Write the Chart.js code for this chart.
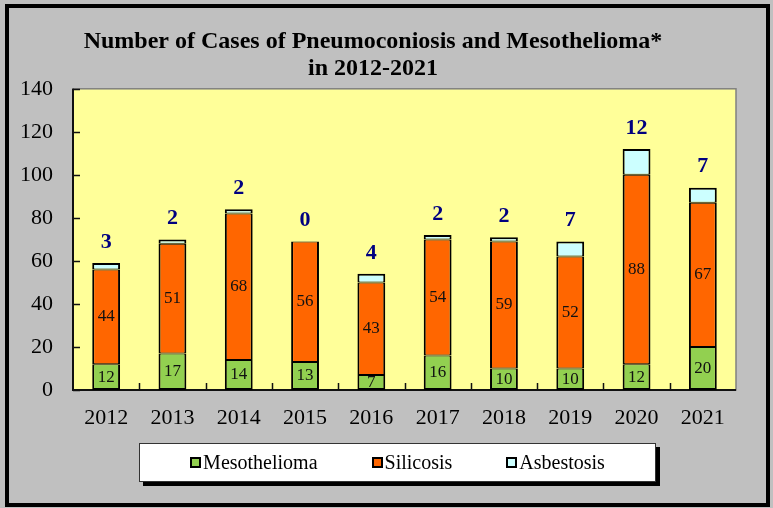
<!DOCTYPE html>
<html>
<head>
<meta charset="utf-8">
<script src="https://cdn.jsdelivr.net/npm/chart.js@4.4.1/dist/chart.umd.min.js"></script>
<style>
  html, body { margin: 0; padding: 0; background: #fff; }
  #wrap { position: relative; width: 773px; height: 508px; }
  #legend {
    position: absolute; left: 139px; top: 443px; width: 515px; height: 37px;
    background: #fff; border: 1px solid #333; box-shadow: 4px 4px 0 #000;
    display: flex; align-items: center; justify-content: center; gap: 54px;
    font: 20px "Liberation Serif", "Times New Roman", serif; color: #000;
  }
  .item { display: flex; align-items: center; }
  .swatch { width: 7px; height: 7px; border: 2px solid #000; margin-right: 2px; }
</style>
</head>
<body>
<div id="wrap">
  <canvas id="chart" width="773" height="508"></canvas>
  <div id="legend"></div>
</div>
<script>
// === Data ===
const years = ["2012", "2013", "2014", "2015", "2016", "2017", "2018", "2019", "2020", "2021"];
const mesothelioma = [12, 17, 14, 13, 7, 16, 10, 10, 12, 20];
const silicosis = [44, 51, 68, 56, 43, 54, 59, 52, 88, 67];
const asbestosis = [3, 2, 2, 0, 4, 2, 2, 7, 12, 7];
const yTicks = [0, 20, 40, 60, 80, 100, 120, 140];
const seriesNames = ["Mesothelioma", "Silicosis", "Asbestosis"];
const seriesColors = ["#92D050", "#FF6600", "#CCFFFF"];
const titleLines = ["Number of Cases of Pneumoconiosis and Mesothelioma*", "in 2012-2021"];

const SERIF = '"Liberation Serif", "Times New Roman", serif';

// borders per segment so stacked edges don't double up
const segmentBorders = [
  { top: 1, bottom: 2, left: 2, right: 2 },
  { top: 1, bottom: 1, left: 2, right: 2 },
  { top: 2, bottom: 1, left: 2, right: 2 },
];

// === Background, plot area and axes ===
const frame = {
  id: "frame",
  beforeDraw(chart) {
    const { ctx, chartArea: a } = chart;
    ctx.save();
    ctx.fillStyle = "#C0C0C0";
    ctx.fillRect(0, 0, chart.width, chart.height);
    ctx.strokeStyle = "#000";
    ctx.lineWidth = 4;
    ctx.strokeRect(7, 6, chart.width - 12, chart.height - 9);
    ctx.fillStyle = "#FFFF99";
    ctx.fillRect(a.left, a.top, a.right - a.left, a.bottom - a.top);
    ctx.strokeStyle = "#808080";
    ctx.lineWidth = 1.5;
    ctx.strokeRect(a.left, a.top, a.right - a.left, a.bottom - a.top);
    ctx.restore();
  },
  beforeDatasetsDraw(chart) {
    const { ctx, chartArea: a, scales } = chart;
    ctx.save();
    ctx.strokeStyle = "#111";
    ctx.lineWidth = 1.5;
    ctx.beginPath();
    // inward ticks on y
    yTicks.forEach(v => {
      const y = Math.round(scales.y.getPixelForValue(v)) + 0.5;
      ctx.moveTo(a.left, y);
      ctx.lineTo(a.left + 7, y);
    });
    // inward ticks on x at category boundaries
    const step = (a.right - a.left) / years.length;
    for (let i = 1; i < years.length; i++) {
      const x = Math.round(a.left + step * i) + 0.5;
      ctx.moveTo(x, a.bottom);
      ctx.lineTo(x, a.bottom - 7);
    }
    ctx.stroke();
    ctx.lineWidth = 2;
    ctx.beginPath();
    ctx.moveTo(a.left, a.top);
    ctx.lineTo(a.left, a.bottom);
    ctx.lineTo(a.right, a.bottom);
    ctx.stroke();
    ctx.restore();
  },
};

// === Value labels ===
const valueLabels = {
  id: "valueLabels",
  afterDatasetsDraw(chart) {
    const { ctx } = chart;
    ctx.save();
    ctx.textAlign = "center";
    ctx.textBaseline = "middle";
    chart.data.datasets.forEach((ds, di) => {
      const meta = chart.getDatasetMeta(di);
      meta.data.forEach((bar, i) => {
        const v = ds.data[i];
        if (di < 2) {
          ctx.font = "17px " + SERIF;
          ctx.fillStyle = "#111";
          ctx.fillText(String(v), bar.x, (bar.y + bar.base) / 2);
        } else {
          ctx.font = "bold 22px " + SERIF;
          ctx.fillStyle = "#000080";
          ctx.fillText(String(v), bar.x, bar.y - 21);
        }
      });
    });
    ctx.restore();
  },
};

const datasets = [mesothelioma, silicosis, asbestosis].map((data, i) => ({
  label: seriesNames[i],
  data,
  backgroundColor: seriesColors[i],
  borderColor: "#000",
  borderWidth: segmentBorders[i],
  borderSkipped: false,
  barPercentage: 0.42,
  categoryPercentage: 1,
}));

new Chart(document.getElementById("chart"), {
  type: "bar",
  data: { labels: years, datasets },
  options: {
    responsive: false,
    animation: false,
    layout: { padding: { left: 10, right: 37, top: 8, bottom: 0 } },
    plugins: {
      legend: { display: false },
      tooltip: { enabled: false },
      title: {
        display: true,
        text: titleLines,
        color: "#000",
        font: { family: SERIF, size: 24, weight: "bold", lineHeight: 1.1 },
        padding: { top: 21, bottom: 7 },
      },
    },
    scales: {
      x: {
        stacked: true,
        grid: { display: false },
        border: { display: false },
        ticks: { color: "#000", font: { family: SERIF, size: 22 }, padding: 7, maxRotation: 0 },
        afterFit: s => { s.height = 118; },
      },
      y: {
        stacked: true,
        min: 0,
        max: 140,
        grid: { display: false, drawTicks: false },
        border: { display: false },
        ticks: { color: "#000", font: { family: SERIF, size: 22 }, padding: 20 },
        afterBuildTicks: s => { s.ticks = yTicks.map(v => ({ value: v })); },
        afterFit: s => { s.width = 63; },
      },
    },
  },
  plugins: [frame, valueLabels],
});

// === HTML legend ===
const legendEl = document.getElementById("legend");
seriesNames.forEach((name, i) => {
  const item = document.createElement("div");
  item.className = "item";
  const sw = document.createElement("span");
  sw.className = "swatch";
  sw.style.background = seriesColors[i];
  item.appendChild(sw);
  item.appendChild(document.createTextNode(name));
  legendEl.appendChild(item);
});
</script>
</body>
</html>
